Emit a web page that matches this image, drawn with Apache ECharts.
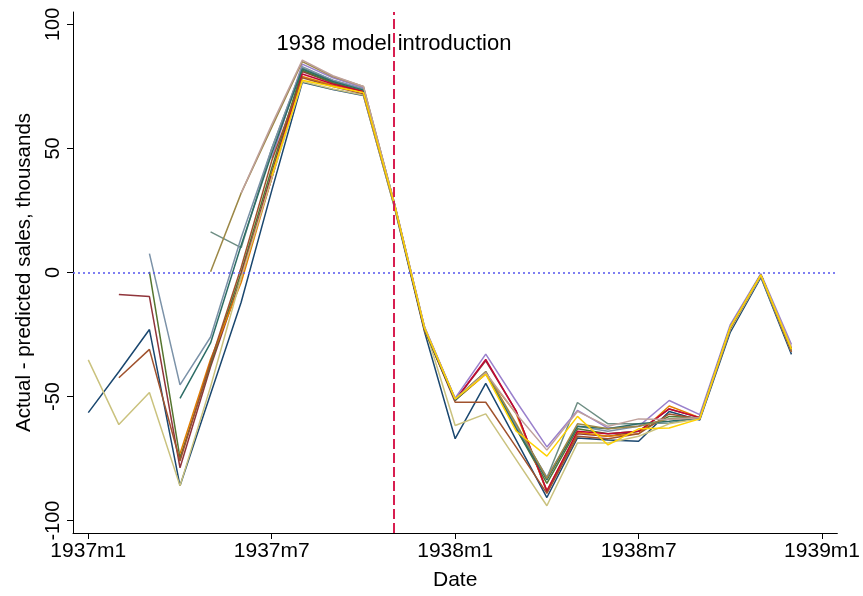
<!DOCTYPE html>
<html><head><meta charset="utf-8">
<script src="https://cdn.jsdelivr.net/npm/echarts@6/dist/echarts.min.js"></script>
<style>html,body{margin:0;padding:0;background:#fff}</style>
</head><body>
<div id="c" style="width:863px;height:596px"></div>
<script>
// month index 0 = 1937m1 ... 23 = 1938m12
const xTickValues = [0, 6, 12, 18, 24];
const xTickLabels = ['1937m1', '1937m7', '1938m1', '1938m7', '1939m1'];
const yTickValues = [-100, -50, 0, 50, 100];
const introMonth = 10;   // 1937m11
const introLabel = '1938 model introduction';
const N = null;

const sNavy     = [-56.5,-40,-23,-86,-49,-12,33,76.7,73.8,71.3,27,-24,-67,-44.7,-67.7,-90.7,-66.7,-67.5,-68,-56,-59.5,-24,-2,-33];
const sMaroon   = [N,-8.9,-9.7,-78.7,-38,-2,40,81,76.5,73,28,-23,-51.5,-35.6,-56,-88.5,-65,-66,-64,-55,-58.5,-22,-1,-31];
const sForest   = [N,N,0.3,-74.7,-37,0,42,81.5,76.5,73,28,-23,-51.5,-40.5,-63,-85,-63,-65,-64,-58,-58.5,-22,-1,-31];
const sDkorange = [N,N,N,-73,-35,-4,38,79,75.5,73,28,-23.5,-51.5,-41,-57,-88,-64.4,-66,-65,-53.8,-58.5,-22,-1,-31];
const sTeal     = [N,N,N,N,16.4,10,50,82.5,77.5,74,28,-22.5,-51,-40,-62,-82.7,-52.4,-61,-61,-60.7,-58.5,-22,-1,-31];
const sCranb    = [N,N,N,N,N,-1.2,38,80,76,73,28,-23,-51.5,-35,-56,-88,-64,-65,-64,-55,-58.5,-22,-1,-31];
const sLavender = [N,N,N,N,N,N,46,84,78.5,74.5,28.5,-22,-50.7,-32.9,-52,-70.3,-55.6,-62.7,-62,-51.6,-57.3,-21,-0.5,-29];
const sKhaki    = [-35.2,-61.3,-48.4,-86,-46,-2,38,77,74,71.5,27,-22,-61.7,-57,-75.5,-94,-68.7,-68.7,-66,-61,-59,-23,-1.5,-32];
const sSienna   = [N,-42.4,-31,-76,-36,2,45,78.5,75,72,27.5,-23,-52.3,-52.3,-70.5,-89,-66,-67,-65,-57,-59,-22.5,-1,-32];
const sEmidblue = [N,N,7.6,-45.3,-26,14,50,83,77.5,74,28,-22.5,-51,-40,-62,-82.5,-62,-64,-62,-59,-58.5,-22,-1,-31];
const sEmerald  = [N,N,N,-50.7,-28.4,11,48,82,77,73.5,28,-23,-51.5,-40.5,-63,-83.6,-62,-63,-61,-60,-58.5,-22,-1,-31];
const sBrown    = [N,N,N,N,0.3,32,58.5,85,79,75,28.5,-22.5,-51,-40,-61,-83,-61,-63,-62,-59,-58.5,-22,-1,-31];
const sErose    = [N,N,N,N,N,32,59.6,85.6,79.3,75,28.5,-22,-51,-40.4,-57,-71.6,-56,-62,-59,-59.3,-58.5,-22,-1,-30];
const sGold     = [N,N,N,N,N,N,39,77.5,75,72.5,28,-22.5,-51,-41,-64,-74,-58,-69.5,-63,-62.7,-59,-22,-1,-31];

const seriesList = [
  ['navy', sNavy, '#1a476f'], ['maroon', sMaroon, '#90353b'], ['forest', sForest, '#55752f'],
  ['dkorange', sDkorange, '#e37e00'], ['teal', sTeal, '#6e8e84'], ['cranberry', sCranb, '#c10534'],
  ['lavender', sLavender, '#9a80cc'], ['khaki', sKhaki, '#cac27e'], ['sienna', sSienna, '#a0522d'],
  ['emidblue', sEmidblue, '#7b92a8'], ['emerald', sEmerald, '#2d6d66'], ['brown', sBrown, '#9c8847'],
  ['erose', sErose, '#bfa19c'], ['gold', sGold, '#ffd200']
];

const FONT = '"Liberation Sans", Arial, Helvetica, sans-serif';
const series = seriesList.map(([name, vals, color]) => ({
  name, type: 'line', symbol: 'none', silent: true,
  data: vals.map((v, i) => v == null ? null : [i, v]).filter(d => d),
  lineStyle: { color, width: 1.5 }, itemStyle: { color }
}));

series.unshift({
  type: 'line', data: [], silent: true,
  markLine: {
    silent: true, symbol: 'none', label: { show: false }, animation: false,
    data: [
      { yAxis: 0, lineStyle: { color: '#5555ee', type: [2, 3], width: 1.5 } },
      { xAxis: introMonth, lineStyle: { color: '#d81e50', type: [10, 4], width: 2 } }
    ]
  }
});
series.push({
  type: 'scatter', symbolSize: 0, silent: true,
  itemStyle: { opacity: 1, color: '#000' },
  data: [[introMonth, 92]],
  label: { show: true, position: 'inside', formatter: introLabel, color: '#000', opacity: 1, fontSize: 22, fontFamily: FONT,
    textBorderWidth: 0, textBorderColor: 'transparent', textShadowBlur: 0 }
});

const chart = echarts.init(document.getElementById('c'), null, { renderer: 'canvas' });
chart.setOption({
  animation: false,
  backgroundColor: '#fff',
  grid: { left: 73, right: 25, top: 12, bottom: 58, containLabel: false },
  xAxis: {
    type: 'value', min: -0.5, max: 24.5,
    name: 'Date', nameLocation: 'middle', nameGap: 37,
    nameTextStyle: { color: '#000', fontSize: 21, fontFamily: FONT },
    axisLine: { show: true, onZero: false, lineStyle: { color: '#000', width: 1 } },
    axisTick: { show: true, length: 6, customValues: xTickValues, lineStyle: { color: '#000' } },
    axisLabel: { show: true, customValues: xTickValues, margin: 8, color: '#000', fontSize: 21, fontFamily: FONT,
      formatter: v => xTickLabels[xTickValues.indexOf(v)] },
    splitLine: { show: false }
  },
  yAxis: {
    type: 'value', min: -105, max: 105,
    name: 'Actual - predicted sales, thousands', nameLocation: 'middle', nameGap: 38,
    nameTextStyle: { color: '#000', fontSize: 20.5, fontFamily: FONT },
    axisLine: { show: true, onZero: false, lineStyle: { color: '#000', width: 1 } },
    axisTick: { show: true, length: 6, customValues: yTickValues, lineStyle: { color: '#000' } },
    axisLabel: { show: true, customValues: yTickValues, rotate: 90, margin: 10, color: '#000', fontSize: 20, fontFamily: FONT },
    splitLine: { show: false }
  },
  series
});
</script>
</body></html>
